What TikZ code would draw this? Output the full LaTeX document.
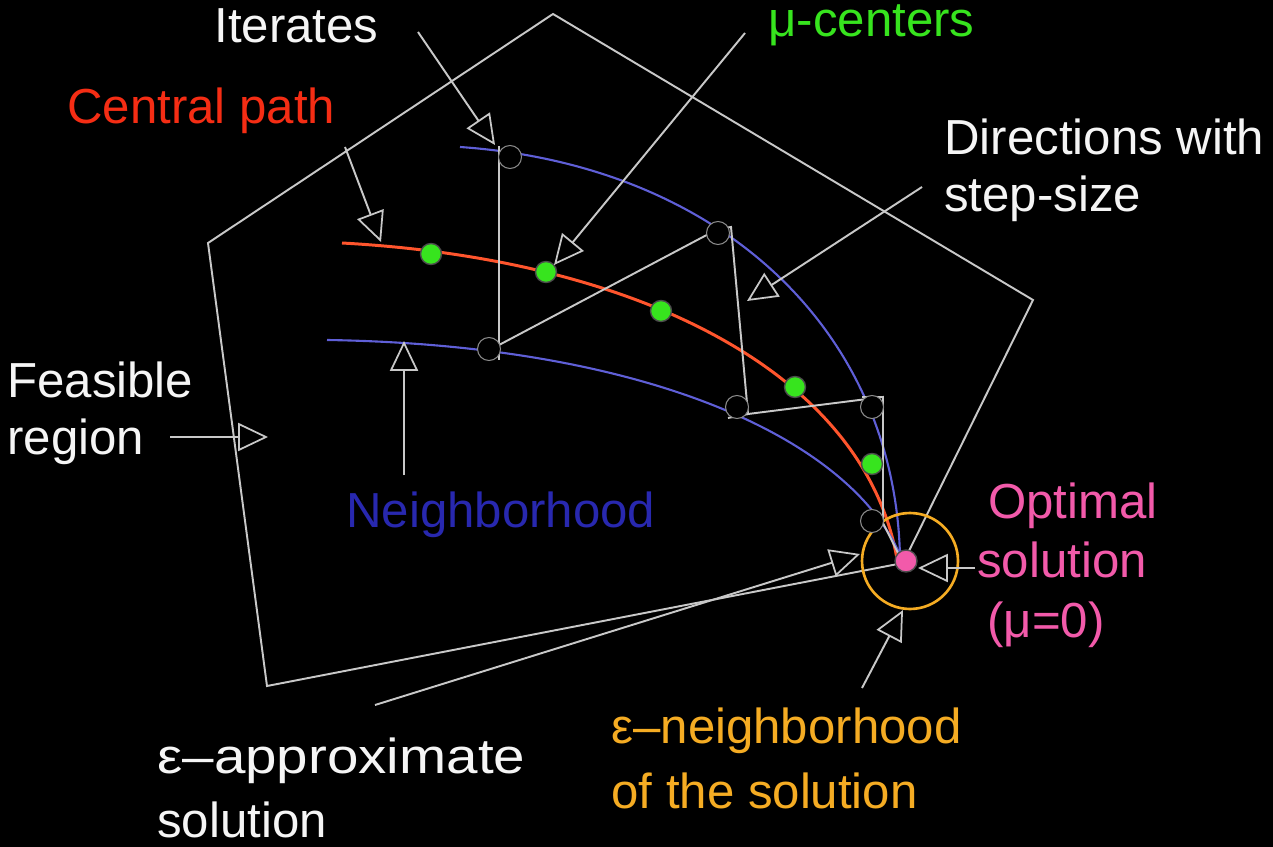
\documentclass[tikz,border=0pt]{standalone}
\usepackage{fontspec}
\setmainfont{Liberation Sans}
\usetikzlibrary{arrows.meta}
\definecolor{lgray}{RGB}{200,200,200}
\definecolor{txtw}{RGB}{245,245,245}
\definecolor{mugreen}{RGB}{55,228,30}
\definecolor{cred}{RGB}{245,45,20}
\definecolor{cpathc}{RGB}{255,85,45}
\definecolor{nblue}{RGB}{40,40,175}
\definecolor{nbline}{RGB}{95,95,215}
\definecolor{optpink}{RGB}{242,90,170}
\definecolor{eorange}{RGB}{245,172,35}
\begin{document}
\begin{tikzpicture}[x=0.02cm,y=-0.02cm,
  lbl/.style={anchor=base west,inner sep=0pt,font=\fontsize{28}{32}\selectfont},
  edge/.style={draw=lgray,line width=1.1pt,line join=miter},
  dirl/.style={draw=lgray,line width=1.1pt},
  arr/.style={draw=lgray,line width=1.1pt,-{Triangle[length=17pt,width=16pt,fill=black,line width=1pt]}},
  nbl/.style={draw=nbline,line width=1.2pt},
  cpl/.style={draw=cpathc,line width=1.7pt},
  iter/.style={circle,fill=black,draw=black!45!white,line width=0.6pt,minimum size=0.46cm,inner sep=0pt},
  muc/.style={circle,fill=mugreen,draw=black!70,line width=0.8pt,minimum size=0.42cm,inner sep=0pt},
  optd/.style={circle,fill=optpink,draw=black!70,line width=0.8pt,minimum size=0.44cm,inner sep=0pt},
  eps/.style={circle,draw=eorange,line width=1.5pt,minimum size=1.92cm,inner sep=0pt}
]
\fill[black] (0,0) rectangle (1273,847);
\useasboundingbox (0,0) rectangle (1273,847);

% feasible region
\coordinate (pT) at (553,14);
\coordinate (pR) at (1033,300);
\coordinate (pO) at (903,563);
\coordinate (pB) at (267,686);
\coordinate (pL) at (208,243);
\draw[edge] (pT) -- (pR) -- (pO) -- (pB) -- (pL) -- cycle;

% neighborhood boundaries and central path
\coordinate (u0) at (460,147);  \coordinate (u1) at (900,557);
\coordinate (c0) at (342,243);  \coordinate (c1) at (898,565);
\coordinate (l0) at (327,340);  \coordinate (l1) at (900,555);
\draw[nbl] (u0) .. controls (720,165) and (895,330) .. (u1);
\draw[cpl] (c0) .. controls (650,260) and (870,380) .. (c1);
\draw[nbl] (l0) .. controls (650,345) and (850,440) .. (l1);

% directions with step-size
\coordinate (d1) at (499,146);
\coordinate (d2) at (499,360);
\coordinate (d3) at (499,345);
\coordinate (d4) at (718,229);
\coordinate (d5) at (731,227);
\coordinate (d6) at (748,414);
\coordinate (d7) at (883,397);
\coordinate (d8) at (883,523);
\coordinate (d9) at (728,418);
\coordinate (d10) at (862,397);
\draw[dirl] (d1) -- (d2);
\draw[dirl] (d3) -- (d4) -- (d5) -- (d6) -- (d7) -- (d8) -- (pO);
\draw[dirl] (d9) -- (d6);
\draw[dirl] (d10) -- (d7);

% epsilon neighborhood circle
\node[eps] (epsc) at (910,561) {};

% iterates
\node[iter] (i1) at (510,157) {};
\node[iter] (i2) at (489,349) {};
\node[iter] (i3) at (718,233) {};
\node[iter] (i4) at (737,407) {};
\node[iter] (i5) at (872,407) {};
\node[iter] (i6) at (872,521) {};

% mu-centers
\node[muc] (m1) at (431,254) {};
\node[muc] (m2) at (546,272) {};
\node[muc] (m3) at (661,311) {};
\node[muc] (m4) at (795,387) {};
\node[muc] (m5) at (872,464) {};

% optimal solution
\node[optd] (opt) at (906,561) {};

% arrows
\coordinate (aIs) at (418,32);   \coordinate (aIt) at (495,145);
\coordinate (aMs) at (745,33);   \coordinate (aMt) at (554,265);
\coordinate (aCs) at (345,147);  \coordinate (aCt) at (381,242);
\coordinate (aDs) at (922,187);  \coordinate (aDt) at (747,301);
\coordinate (aNs) at (404,475);  \coordinate (aNt) at (404,341);
\coordinate (aFs) at (170,437);  \coordinate (aFt) at (268,437);
\coordinate (aOs) at (975,568);  \coordinate (aOt) at (918,568);
\coordinate (aEs) at (862,688);  \coordinate (aEt) at (903,610);
\coordinate (aAs) at (375,705);  \coordinate (aAt) at (860,554);
\draw[arr] (aIs) -- (aIt);
\draw[arr] (aMs) -- (aMt);
\draw[arr] (aCs) -- (aCt);
\draw[arr] (aDs) -- (aDt);
\draw[arr] (aNs) -- (aNt);
\draw[arr] (aFs) -- (aFt);
\draw[arr] (aOs) -- (aOt);
\draw[arr] (aEs) -- (aEt);
\draw[arr] (aAs) -- (aAt);

% labels
\node[lbl,text=txtw] (tIt) at (214,43) {Iterates};
\node[lbl,text=mugreen] (tMu) at (768,37) {μ-centers};
\node[lbl,text=cred] (tCp) at (67,124) {Central path};
\node[lbl,text=txtw] (tD1) at (944,155) {Directions with};
\node[lbl,text=txtw] (tD2) at (944,212) {step-size};
\node[lbl,text=txtw] (tF1) at (7,398) {Feasible};
\node[lbl,text=txtw] (tF2) at (7,454) {region};
\node[lbl,text=nblue] (tNb) at (346,527) {Neighborhood};
\node[lbl,text=optpink] (tO1) at (988,518) {Optimal};
\node[lbl,text=optpink] (tO2) at (977,577) {solution};
\node[lbl,text=optpink] (tO3) at (987,637) {(μ=0)};
\node[lbl,text=txtw] (tA1) at (157,773) {\scalebox{1.15}[1]{ε–approximate}};
\node[lbl,text=txtw] (tA2) at (157,837) {solution};
\node[lbl,text=eorange] (tE1) at (611,743) {ε–neighborhood};
\node[lbl,text=eorange] (tE2) at (611,808) {of the solution};
\end{tikzpicture}
\end{document}
